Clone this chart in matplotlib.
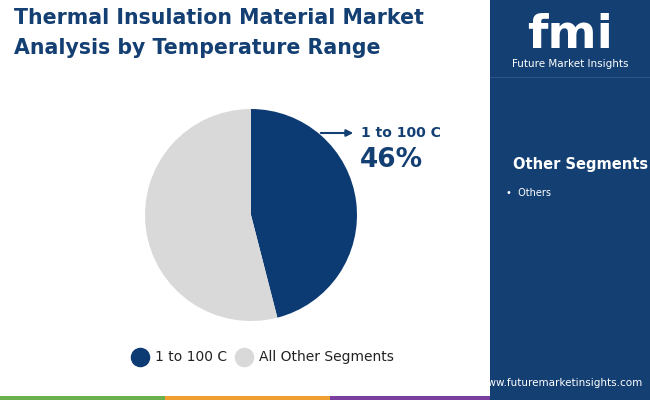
import matplotlib
matplotlib.use("Agg")
import matplotlib.pyplot as plt
from matplotlib.patches import Rectangle

categories = ["1 to 100 C", "All Other Segments"]
values = [46, 54]
colors = ["#0c3b74", "#d9d9d9"]
side_items = ["Others"]

fig = plt.figure(figsize=(6.5, 4.0), dpi=100)
fig.patch.set_facecolor("white")

ax_bg = fig.add_axes([0, 0, 1, 1], zorder=0)
ax_bg.set_xlim(0, 650); ax_bg.set_ylim(400, 0); ax_bg.axis("off")
ax_bg.add_patch(Rectangle((490, 0), 160, 400, facecolor="#143f73", edgecolor="none"))
ax_bg.add_patch(Rectangle((490, 77), 160, 1, facecolor="#2c5688", edgecolor="none"))
strip = [("#6ab04c", 0, 165), ("#f0a030", 165, 330), ("#7b3fa0", 330, 490), ("#143f73", 490, 650)]
for c, a, b in strip:
    ax_bg.add_patch(Rectangle((a, 396), b - a, 4, facecolor=c, edgecolor="none"))

ax = fig.add_axes([(251-106)/650, (400-215-106)/400, 212/650, 212/400], zorder=1)
ax.pie(values, colors=colors, startangle=90, counterclock=False,
       wedgeprops=dict(linewidth=0))
ax.set_xlim(-1, 1); ax.set_ylim(-1, 1)
ax.set_aspect("equal")

ax_ann = fig.add_axes([0, 0, 1, 1], zorder=2)
ax_ann.patch.set_visible(False)
ax_ann.set_xlim(0, 650); ax_ann.set_ylim(400, 0); ax_ann.axis("off")

ax_ann.text(14, 18, "Thermal Insulation Material Market", fontsize=14.8, fontweight="bold",
            color="#143f73", va="center")
ax_ann.text(14, 48, "Analysis by Temperature Range", fontsize=14.8, fontweight="bold",
            color="#143f73", va="center")

ax_ann.annotate("", xy=(356, 133), xytext=(318, 133),
                arrowprops=dict(arrowstyle="-|>", color="#143f73", lw=1.5))
ax_ann.text(361, 133, categories[0], fontsize=10, fontweight="bold", color="#143f73", va="center")
ax_ann.text(360, 160, f"{values[0]}%", fontsize=19, fontweight="bold", color="#143f73", va="center")

for x, c, lab in [(140, colors[0], categories[0]), (244, colors[1], categories[1])]:
    ax_ann.scatter([x], [357], s=170, color=c, zorder=3)
    ax_ann.text(x + 15, 357, lab, fontsize=10, color="#222222", va="center")

ax_ann.text(570, 36, "fmi", fontsize=34, fontweight="bold", color="white", ha="center", va="center")
ax_ann.text(570, 64, "Future Market Insights", fontsize=7.5, color="white", ha="center", va="center")
ax_ann.text(513, 164, "Other Segments", fontsize=10.5, fontweight="bold", color="white", va="center")
for i, s in enumerate(side_items):
    ax_ann.text(506, 193 + 16*i, "•  " + s, fontsize=7, color="white", va="center")
ax_ann.text(643, 383, "www.futuremarketinsights.com", fontsize=7.5, color="white", ha="right", va="center")

fig.savefig("out.png", dpi=100)
